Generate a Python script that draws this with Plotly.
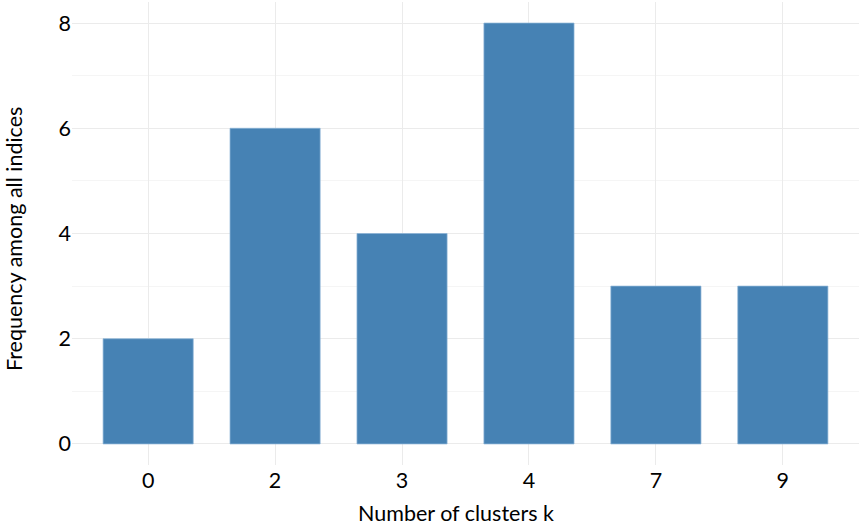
import plotly.graph_objects as go

clusters = ["0", "2", "3", "4", "7", "9"]
frequency = [2, 6, 4, 8, 3, 3]
x_title = "Number of clusters k"
y_title = "Frequency among all indices"

FONT = "Lato, 'Open Sans', sans-serif"
FS = 21.5

fig = go.Figure(
    go.Bar(
        x=clusters,
        y=frequency,
        width=0.71,
        marker=dict(color="#4682B4", line=dict(color="rgba(140,180,215,0.9)", width=0.8)),
    )
)

fig.update_layout(
    width=861,
    height=527,
    margin=dict(l=72, r=2, t=2, b=62, pad=0, autoexpand=False),
    plot_bgcolor="white",
    paper_bgcolor="white",
    showlegend=False,
    font=dict(family=FONT, size=FS, color="black"),
    annotations=[
        dict(
            text=x_title, xref="paper", yref="paper",
            x=(456 - 72) / (859 - 72), y=0, xanchor="center", yanchor="middle",
            yshift=-(513 - 465), showarrow=False, font=dict(size=FS, color="black"),
        ),
        dict(
            text=y_title, xref="paper", yref="paper", textangle=-90,
            x=0, y=(465 - 239) / (465 - 2), xanchor="center", yanchor="middle",
            xshift=-(72 - 14), showarrow=False, font=dict(size=FS, color="black"),
        ),
    ],
)

fig.update_xaxes(
    type="category",
    range=[-0.6, 5.6],
    automargin=False,
    showgrid=True,
    gridcolor="#EBEBEB",
    gridwidth=1,
    zeroline=False,
    showline=False,
    ticks="",
    tickfont=dict(size=FS, color="black"),
)

fig.update_yaxes(
    range=[-0.4, 8.4],
    automargin=False,
    tickvals=[0, 2, 4, 6, 8],
    showgrid=True,
    gridcolor="#EBEBEB",
    gridwidth=1,
    minor=dict(dtick=1, tick0=0, showgrid=True, gridcolor="#F5F5F5", gridwidth=1),
    zeroline=False,
    showline=False,
    ticks="",
    tickfont=dict(size=FS, color="black"),
)

fig.write_html(
    "out.html",
    config={"displayModeBar": False},
    post_script="document.body.style.margin='0';",
)
